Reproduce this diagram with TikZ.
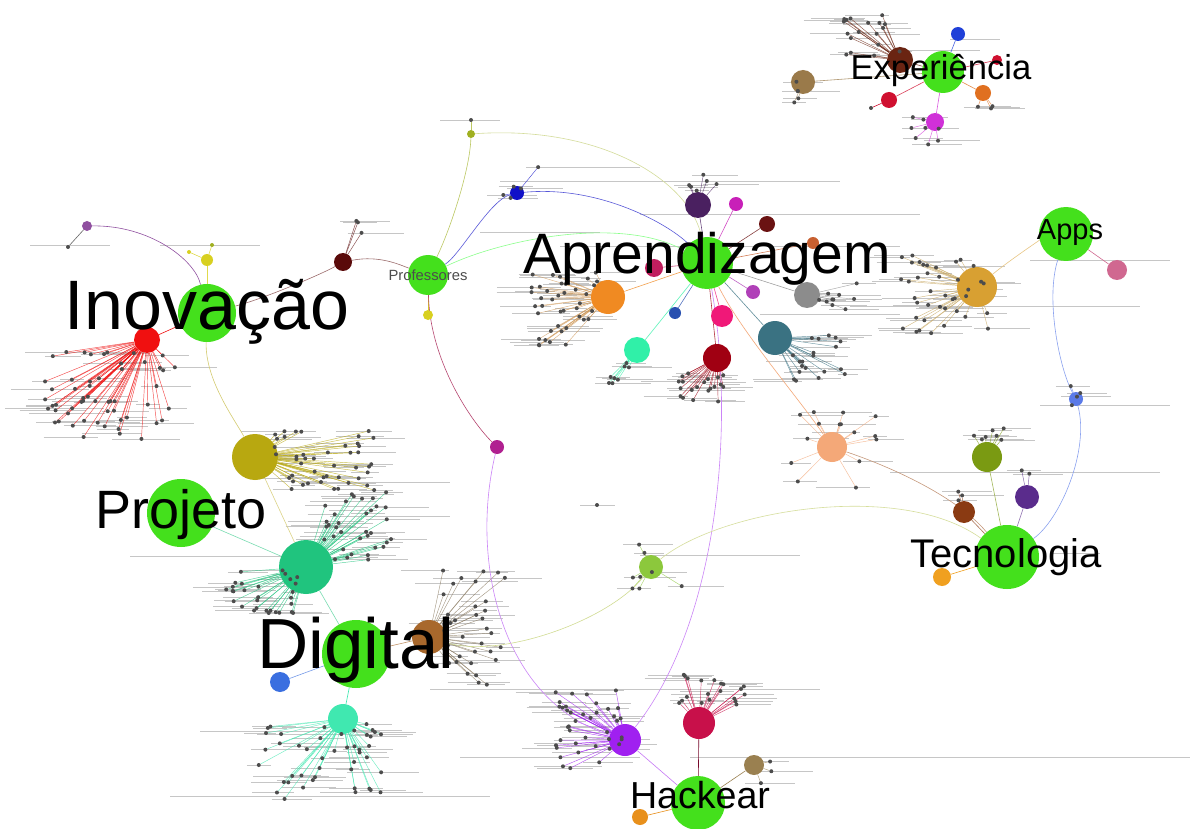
\documentclass[tikz,border=0pt]{standalone}
\usepackage{fontspec}
\setmainfont{Liberation Sans}
\pgfdeclarelayer{lines}\pgfdeclarelayer{edges}\pgfdeclarelayer{front}
\pgfsetlayers{lines,edges,main,front}
\definecolor{gr}{HTML}{44E01C}
\definecolor{cRed}{HTML}{F01010}
\definecolor{cOlive}{HTML}{B8A810}
\definecolor{cTeal}{HTML}{20C47E}
\definecolor{cBrown}{HTML}{A8682C}
\definecolor{cBlueD}{HTML}{3A6FE0}
\definecolor{cAqua}{HTML}{40E8B0}
\definecolor{cPurp}{HTML}{A020F0}
\definecolor{cCrim}{HTML}{C8104A}
\definecolor{cKhaki}{HTML}{9A8050}
\definecolor{cOrS}{HTML}{E8901C}
\definecolor{cYG}{HTML}{8CC83C}
\definecolor{cMag}{HTML}{B02090}
\definecolor{cSal}{HTML}{F4A878}
\definecolor{cDRed}{HTML}{A00012}
\definecolor{cMint}{HTML}{30F0A8}
\definecolor{cPinkR}{HTML}{F01878}
\definecolor{cSteel}{HTML}{3A7282}
\definecolor{cGray}{HTML}{8C8C8C}
\definecolor{cMagB}{HTML}{B040B8}
\definecolor{cOr}{HTML}{F08A22}
\definecolor{cCrimS}{HTML}{C01E5E}
\definecolor{cBlueS}{HTML}{2850B0}
\definecolor{cDPurp}{HTML}{4A2060}
\definecolor{cMagC}{HTML}{C820B8}
\definecolor{cDBrown}{HTML}{6A1212}
\definecolor{cSienna}{HTML}{C86030}
\definecolor{cGold}{HTML}{D8A032}
\definecolor{cPink}{HTML}{D06890}
\definecolor{cCorn}{HTML}{5A7AE8}
\definecolor{cOliveT}{HTML}{7A9A12}
\definecolor{cDPurpT}{HTML}{5A2C8C}
\definecolor{cBrownT}{HTML}{8A3A12}
\definecolor{cOrT}{HTML}{F0A020}
\definecolor{cMaroon}{HTML}{5A0A0A}
\definecolor{cBlue}{HTML}{1010C8}
\definecolor{cOG}{HTML}{A0B020}
\definecolor{cYel}{HTML}{D8D020}
\definecolor{cPurS}{HTML}{9050A0}
\definecolor{cExpBr}{HTML}{6A2412}
\definecolor{cTan}{HTML}{9A7A4A}
\definecolor{cBlueE}{HTML}{2040D8}
\definecolor{cRedE}{HTML}{D01030}
\definecolor{cOrE}{HTML}{E07020}
\definecolor{cMagE}{HTML}{D030D8}
\definecolor{cOrFan}{HTML}{D09A5A}
\definecolor{cGoldFan}{HTML}{C8A860}
\definecolor{cBrFan}{HTML}{8A7A60}
\tikzset{
  bub/.style={circle,inner sep=0pt,draw=none,minimum size=#1pt},
  leaf/.style={circle,inner sep=0pt,draw=none,fill=black!70,minimum size=4pt},
  lbl/.style={draw=gray!45,line width=0.45pt},
  fanedge/.style={line width=0.45pt,opacity=0.75},
  conn/.style={line width=0.6pt},
  big/.style={anchor=base,inner sep=0pt,text=black},
}
% center/color/count/x0/x1/y0/y1/prefix
\def\clusters{red/cRed/55/45/175/352/440/ra,
 olive/cOlive/45/272/375/430/495/oa,
 teal/cTeal/35/322/392/492/560/ta,
 teal/cTeal/30/220/298/570/615/tb,
 brown/cBrFan/35/440/505/565/690/ba,
 aqua/cAqua/45/258/385/722/800/aa,
 purp/cPurp/40/555/622/690/770/pa,
 crim/cCrim/20/672/745/673/705/ca,
 yg/cYG/8/620/690/542/592/ya,
 sal/cSal/15/785/880/410/495/sa,
 dred/cDRed/20/676/725/372/402/da,
 mint/cMint/8/608/630/362/386/ma,
 steel/cSteel/20/792/850/325/382/sb,
 gray/cGray/10/818/862/280/312/ga,
 orange/cOrFan/40/528/598/272/346/oc,
 dpurp/cDPurp/6/688/718/172/192/dp,
 gold/cGoldFan/40/900/990/255/340/gb,
 olivet/cOliveT/7/962/1010/425/440/ot,
 dpurpt/cDPurpT/2/1020/1035/470/475/pt,
 brownt/cBrownT/3/945/970/488/502/bt,
 expbr/cExpBr/18/840/900/15/58/ea,
 tan/cTan/5/780/805/80/106/tt,
 mage/cMagE/8/910/950/117/146/me,
 blue/cBlue/5/490/550/165/200/bl,
 maroon/cMaroon/3/332/364/220/234/mr,
 corn/cCorn/4/1060/1102/386/430/co,
 ore/cOrE/3/975/995/104/110/oe,
 khaki/cKhaki/3/758/780/752/785/kh}
\begin{document}
\begin{tikzpicture}[x=1pt,y=-1pt]
\pgfmathsetseed{4242}
\useasboundingbox (0,0) rectangle (1192,829);

% ---------- main (green) nodes ----------
\node[bub=58,fill=gr] (inov) at (207,313) {};
\node[bub=52,fill=gr] (aprend) at (707,263) {};
\node[bub=68,fill=gr] (proj) at (181,513) {};
\node[bub=68,fill=gr] (digi) at (356,654) {};
\node[bub=64,fill=gr] (tecno) at (1007,557) {};
\node[bub=42,fill=gr] (exp) at (943,72) {};
\node[bub=54,fill=gr] (apps) at (1066,234) {};
\node[bub=54,fill=gr] (hack) at (698,803) {};
\node[bub=40,fill=gr] (prof) at (428,275) {};

% ---------- cluster nodes ----------
\node[bub=26,fill=cRed] (red) at (147,340) {};
\node[bub=46,fill=cOlive] (olive) at (255,457) {};
\node[bub=54,fill=cTeal] (teal) at (306,567) {};
\node[bub=34,fill=cBrown] (brown) at (429,637) {};
\node[bub=20,fill=cBlueD] (blued) at (280,682) {};
\node[bub=30,fill=cAqua] (aqua) at (343,719) {};
\node[bub=32,fill=cPurp] (purp) at (625,740) {};
\node[bub=32,fill=cCrim] (crim) at (699,723) {};
\node[bub=20,fill=cKhaki] (khaki) at (754,765) {};
\node[bub=16,fill=cOrS] (ors) at (640,817) {};
\node[bub=24,fill=cYG] (yg) at (651,567) {};
\node[bub=14,fill=cMag] (mag) at (497,447) {};
\node[bub=30,fill=cSal] (sal) at (832,447) {};
\node[bub=28,fill=cDRed] (dred) at (717,358) {};
\node[bub=26,fill=cMint] (mint) at (637,350) {};
\node[bub=22,fill=cPinkR] (pinkr) at (722,316) {};
\node[bub=34,fill=cSteel] (steel) at (775,338) {};
\node[bub=26,fill=cGray] (gray) at (807,295) {};
\node[bub=14,fill=cMagB] (magb) at (753,292) {};
\node[bub=34,fill=cOr] (orange) at (608,297) {};
\node[bub=18,fill=cCrimS] (crims) at (654,268) {};
\node[bub=12,fill=cBlueS] (blues) at (675,313) {};
\node[bub=26,fill=cDPurp] (dpurp) at (698,205) {};
\node[bub=14,fill=cMagC] (magc) at (736,204) {};
\node[bub=16,fill=cDBrown] (dbrown) at (767,224) {};
\node[bub=12,fill=cSienna] (sienna) at (813,243) {};
\node[bub=40,fill=cGold] (gold) at (977,287) {};
\node[bub=20,fill=cPink] (pink) at (1117,270) {};
\node[bub=14,fill=cCorn] (corn) at (1076,399) {};
\node[bub=30,fill=cOliveT] (olivet) at (987,457) {};
\node[bub=24,fill=cDPurpT] (dpurpt) at (1027,497) {};
\node[bub=22,fill=cBrownT] (brownt) at (964,512) {};
\node[bub=18,fill=cOrT] (ort) at (942,577) {};
\node[bub=18,fill=cMaroon] (maroon) at (343,262) {};
\node[bub=14,fill=cBlue] (blue) at (517,193) {};
\node[bub=8,fill=cOG] (og) at (471,134) {};
\node[bub=12,fill=cYel] (yela) at (207,260) {};
\node[bub=10,fill=cYel] (yelb) at (428,315) {};
\node[bub=10,fill=cPurS] (purs) at (87,226) {};
\node[leaf] (dda) at (68,247) {};
\node[leaf,fill=cYel] (ddb) at (189,252) {};
\node[leaf,fill=cOG] (ddc) at (212,245) {};
\node[leaf] (ddd) at (471,120) {};
\node[leaf] (dde) at (597,505) {};
\node[bub=26,fill=cExpBr] (expbr) at (900,60) {};
\node[bub=24,fill=cTan] (tan) at (803,82) {};
\node[bub=14,fill=cBlueE] (bluee) at (958,34) {};
\node[bub=10,fill=cRedE] (redf) at (997,60) {};
\node[bub=16,fill=cOrE] (ore) at (983,93) {};
\node[bub=16,fill=cRedE] (rede) at (889,100) {};
\node[bub=18,fill=cMagE] (mage) at (935,122) {};
\node[leaf] (ddf) at (871,108) {};

% ---------- leaf nodes of the fans ----------
\foreach \c/\col/\n/\xa/\xb/\ya/\yb/\p in \clusters {
  \foreach \k in {1,...,\n} {
    \pgfmathsetmacro\px{\xa+rnd*(\xb-\xa)}
    \pgfmathsetmacro\py{\ya+rnd*(\yb-\ya)}
    \node[leaf] (\p\k) at (\px,\py) {};
  }
}

% ---------- label lines ----------
\begin{pgfonlayer}{lines}
\fill[white] (0,0) rectangle (1192,829);
\foreach \c/\col/\n/\xa/\xb/\ya/\yb/\p in \clusters {
  \foreach \k in {1,...,\n} {
    \pgfmathsetmacro\la{6+mod(\k*37+11,38)}
    \pgfmathsetmacro\lb{6+mod(\k*23+5,38)}
    \draw[lbl] ([xshift=-\la pt]\p\k.center) -- ([xshift=\lb pt]\p\k.center);
  }
}
\draw[lbl] (500,181) -- (840,181);
\draw[lbl] (640,214) -- (920,214);
\draw[lbl] (560,246) -- (900,246);
\draw[lbl] (480,232) -- (600,232);
\draw[lbl] (760,314) -- (900,314);
\draw[lbl] (850,306) -- (1140,306);
\draw[lbl] (1030,260) -- (1170,260);
\draw[lbl] (1040,405) -- (1170,405);
\draw[lbl] (890,472) -- (1160,472);
\draw[lbl] (640,555) -- (800,555);
\draw[lbl] (430,689) -- (820,689);
\draw[lbl] (460,757) -- (640,757);
\draw[lbl] (690,757) -- (1190,757);
\draw[lbl] (170,796) -- (490,796);
\draw[lbl] (200,731) -- (380,731);
\draw[lbl] (330,516) -- (450,516);
\draw[lbl] (300,482) -- (450,482);
\draw[lbl] (130,556) -- (320,556);
\draw[lbl] (545,167) -- (640,167);
\draw[lbl] (900,50) -- (980,50);
\draw[lbl] (950,39) -- (1000,39);
\draw[lbl] (580,505) -- (615,505);
\draw[lbl] (1050,553) -- (1100,553);
\draw[lbl] (440,120) -- (500,120);
\draw[lbl] (30,245) -- (110,245);
\draw[lbl] (160,245) -- (260,245);
\end{pgfonlayer}

% ---------- connectors ----------
\begin{pgfonlayer}{edges}
\foreach \c/\col/\n/\xa/\xb/\ya/\yb/\p in \clusters {
  \foreach \k in {1,...,\n} {
    \draw[\col,fanedge] (\c) -- (\p\k);
  }
}
\draw[conn,cPurS] (purs) .. controls (150,225) and (195,260) .. (inov);
\draw[conn,black!60] (purs) -- (dda);
\draw[conn,cYel!80] (yela) -- (inov);
\draw[conn,cYel!80] (yela) -- (ddb);
\draw[conn,cYel!80] (yela) -- (ddc);
\draw[conn,cRed] (red) -- (inov);
\draw[conn,cOlive!60] (inov) .. controls (205,380) and (235,420) .. (olive);
\draw[conn,cMaroon!60] (inov) .. controls (260,300) and (320,275) .. (maroon);
\draw[conn,cMaroon!60] (maroon) .. controls (380,255) and (400,265) .. (prof);
\draw[conn,cOG!70] (prof) .. controls (450,230) and (470,170) .. (og);
\draw[conn,cOG!70] (og) -- (ddd);
\draw[conn,cOG!45] (og) .. controls (600,125) and (690,180) .. (aprend);
\draw[conn,cBlue!70] (prof) .. controls (460,255) and (490,200) .. (blue);
\draw[conn,cBlue!70] (blue) .. controls (600,185) and (670,225) .. (aprend);
\draw[conn,green!45] (prof) .. controls (500,240) and (620,215) .. (aprend);
\draw[conn,cYel] (prof) -- (yelb);
\draw[conn,cMag!60!brown] (prof) .. controls (430,360) and (470,420) .. (mag);
\draw[conn,cPurp!55] (mag) .. controls (470,560) and (500,700) .. (purp);
\draw[conn,cPurp!55] (aprend) .. controls (735,420) and (720,620) .. (purp);
\draw[conn,cPurp!60] (purp) -- (hack);
\draw[conn,cCrim!60!black] (crim) -- (hack);
\draw[conn,cKhaki] (khaki) -- (hack);
\draw[conn,cOrS] (ors) -- (hack);
\draw[conn,cYG!50!cOlive!50] (brown) .. controls (500,660) and (610,620) .. (yg);
\draw[conn,cYG!45!cOlive!45] (yg) .. controls (720,510) and (900,480) .. (tecno);
\draw[conn,cSal!60!gray] (sal) .. controls (900,470) and (960,500) .. (tecno);
\draw[conn,cSal] (aprend) .. controls (740,330) and (800,400) .. (sal);
\draw[conn,cGold!60] (gold) .. controls (1010,260) and (1040,240) .. (apps);
\draw[conn,cPink] (apps) -- (pink);
\draw[conn,cCorn!70] (apps) .. controls (1045,300) and (1060,370) .. (corn);
\draw[conn,cCorn!70] (corn) .. controls (1090,450) and (1060,520) .. (tecno);
\draw[conn,cOliveT!70] (tecno) -- (olivet);
\draw[conn,cDPurpT!70] (tecno) -- (dpurpt);
\draw[conn,cBrownT!70] (tecno) -- (brownt);
\draw[conn,cOrT] (tecno) -- (ort);
\draw[conn,cOlive!50] (olive) -- (teal);
\draw[conn,cTeal!60] (proj) -- (teal);
\draw[conn,cTeal!60] (teal) -- (digi);
\draw[conn,cBrown!70] (digi) -- (brown);
\draw[conn,cBlueD!70] (digi) -- (blued);
\draw[conn,cAqua] (digi) -- (aqua);
\foreach \n/\cl in {dpurp/cDPurp,magc/cMagC,dbrown/cDBrown,sienna/cSienna,crims/cCrimS,orange/cOr,magb/cMagB,gray/cGray,blues/cBlueS,pinkr/cPinkR,steel/cSteel,mint/cMint,dred/cDRed}
  \draw[conn,\cl!80] (aprend) -- (\n);
\foreach \n/\cl in {expbr/cExpBr,tan/cTan,bluee/cBlueE,redf/cRedE,ore/cOrE,rede/cRedE,mage/cMagE}
  \draw[conn,\cl!80] (exp) -- (\n);
\draw[conn,cRedE] (rede) -- (ddf);
\end{pgfonlayer}

% ---------- labels ----------
\begin{pgfonlayer}{front}
\node[big,font=\fontsize{70}{70}\selectfont] (tinov) at (207,330) {Inovação};
\node[big,font=\fontsize{57}{57}\selectfont] (taprend) at (707,273) {Aprendizagem};
\node[big,font=\fontsize{54}{54}\selectfont] (tproj) at (181,528) {Projeto};
\node[big,font=\fontsize{71}{71}\selectfont] (tdigi) at (356,668) {Digital};
\node[big,font=\fontsize{40}{40}\selectfont] (ttecno) at (1006,567) {Tecnologia};
\node[big,font=\fontsize{34.6}{35}\selectfont] (texp) at (941,80) {Experiência};
\node[big,font=\fontsize{29}{29}\selectfont] (tapps) at (1070,240) {Apps};
\node[big,font=\fontsize{37.6}{38}\selectfont] (thack) at (700,808) {Hackear};
\node[big,font=\fontsize{14.8}{15}\selectfont,text=black!70] (tprof) at (428,280) {Professores};
\end{pgfonlayer}
\end{tikzpicture}
\end{document}
